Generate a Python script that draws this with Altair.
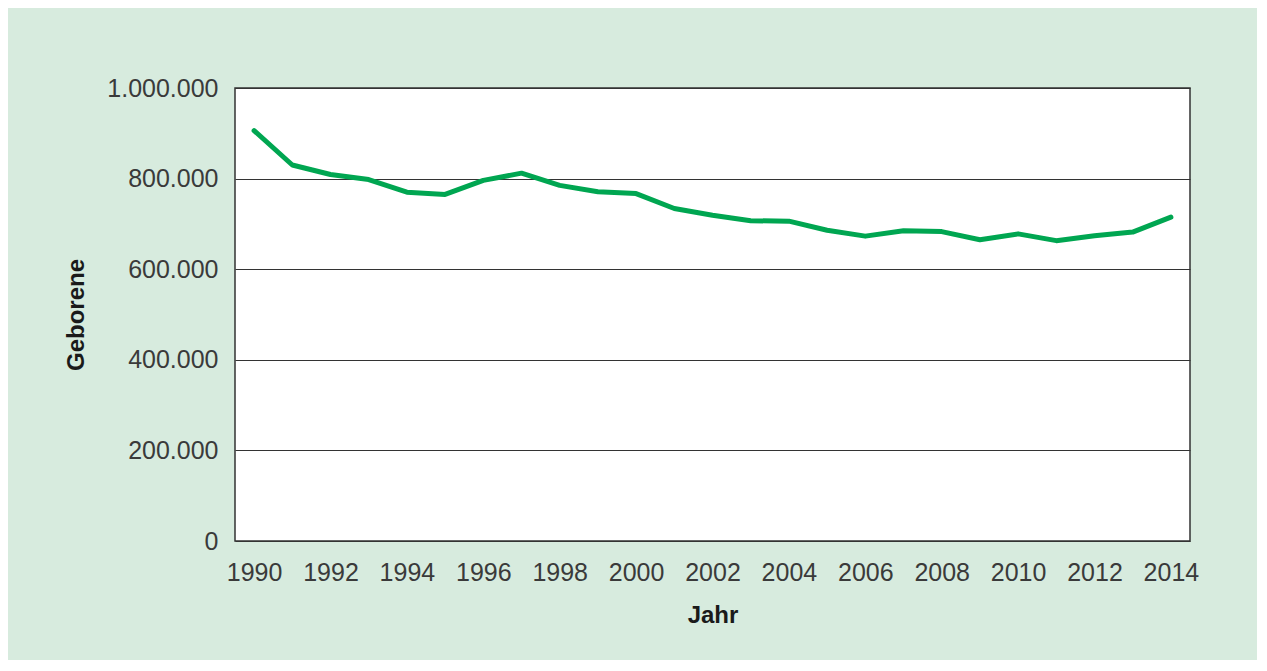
import altair as alt
import pandas as pd

years = list(range(1990, 2015))
births = [906000, 830000, 809000, 798000, 770000, 765000, 796000, 812000, 785000,
          771000, 767000, 734000, 719000, 707000, 706000, 686000, 673000, 685000,
          683000, 665000, 678000, 663000, 674000, 682000, 715000]

x_ticks = list(range(1990, 2015, 2))
y_ticks = [0, 200000, 400000, 600000, 800000, 1000000]

df = pd.DataFrame({"Jahr": years, "Geborene": births})

FONT = "Liberation Sans"

chart = alt.Chart(df).mark_line(
    color="#00a651", strokeWidth=5, strokeCap="round", strokeJoin="round"
).encode(
    x=alt.X("Jahr:Q",
            scale=alt.Scale(domain=[1989.5, 2014.5], nice=False, zero=False),
            axis=alt.Axis(values=x_ticks, format="d", title="Jahr", grid=False,
                          ticks=False, domain=False, labelPadding=19,
                          labelFontSize=25, labelColor="#3a3a3a", labelFont=FONT,
                          titleFontSize=24, titleFontWeight="bold", titleFont=FONT,
                          titleColor="#1a1a1a", titlePadding=18)),
    y=alt.Y("Geborene:Q",
            scale=alt.Scale(domain=[0, 1000000], nice=False),
            axis=alt.Axis(values=y_ticks, title="Geborene", grid=True,
                          gridColor="#333333", gridWidth=1, gridOpacity=1,
                          ticks=False, domain=False, labelPadding=17,
                          labelExpr="replace(format(datum.value, ','), regexp(',', 'g'), '.')",
                          labelFontSize=25, labelColor="#3a3a3a", labelFont=FONT,
                          titleFontSize=24, titleFontWeight="bold", titleFont=FONT,
                          titleColor="#1a1a1a", titlePadding=18)),
).properties(
    width=955,
    height=453,
    background="#d7ebde",
    autosize=alt.AutoSizeParams(type="none"),
    padding={"left": 227, "top": 80, "right": 67, "bottom": 119},
).configure_view(
    fill="white", stroke="#333333", strokeWidth=1.5
)

chart.save("out.html", embed_options={"renderer": "svg", "actions": False})
